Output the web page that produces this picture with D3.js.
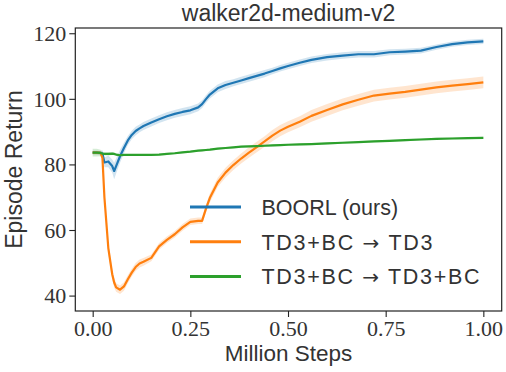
<!DOCTYPE html>
<html>
<head>
<meta charset="utf-8">
<script src="https://cdn.jsdelivr.net/npm/d3@7"></script>
<style>
  body { margin: 0; background: #fff; }
  svg { display: block; }
</style>
</head>
<body>
<div id="chart"></div>
<script>
// Steps (millions) shared by all three runs
const steps = [0, 0.01, 0.02, 0.025, 0.03, 0.04, 0.05, 0.055, 0.06, 0.07, 0.08, 0.09, 0.10, 0.11, 0.12, 0.13,
    0.15, 0.17, 0.19, 0.21, 0.23, 0.25, 0.27, 0.28, 0.29, 0.30, 0.32, 0.34, 0.36, 0.38, 0.40, 0.42, 0.44,
    0.46, 0.48, 0.50, 0.53, 0.56, 0.60, 0.64, 0.68, 0.72, 0.76, 0.80, 0.84, 0.88, 0.92, 0.96, 1.00];

const boorl = [83.6, 83.6, 83.5, 83.3, 80.6, 80.9, 79.5, 78.0, 79.5, 82.5, 85.0, 87.3, 89.0, 90.2, 91.0, 91.7,
    92.8, 93.8, 94.7, 95.4, 96.0, 96.5, 97.4, 98.4, 99.9, 101.3, 103.2, 104.2, 104.9, 105.6, 106.3, 107.0, 107.7,
    108.5, 109.3, 110.0, 111.0, 111.9, 112.7, 113.2, 113.6, 113.6, 114.2, 114.4, 114.7, 115.8, 116.7, 117.2, 117.5];
const boorlBand = [0.6, 0.6, 0.6, 1.0, 1.5, 1.8, 2.0, 2.5, 2.3, 2.0, 1.6, 1.4, 1.3, 1.3, 1.2, 1.2,
    1.2, 1.2, 1.2, 1.2, 1.2, 1.2, 1.2, 1.2, 1.2, 1.2, 1.2, 1.2, 1.1, 1.1, 1.1, 1.1, 1.1,
    1.0, 1.0, 1.0, 1.0, 1.0, 1.0, 1.0, 1.0, 1.0, 0.9, 0.9, 0.9, 0.8, 0.8, 0.8, 0.8];

const td3 = [83.6, 83.6, 83.5, 82.0, 70.0, 54.5, 46.5, 44.0, 42.5, 41.8, 42.8, 45.0, 47.0, 48.7, 49.8, 50.3,
    51.5, 55.0, 57.0, 58.7, 60.8, 62.5, 62.8, 62.8, 66.5, 69.8, 74.5, 77.5, 79.8, 81.8, 83.6, 85.3, 87.0,
    88.8, 90.3, 91.5, 93.0, 94.8, 96.6, 98.3, 99.7, 101.0, 101.6, 102.1, 102.8, 103.5, 104.0, 104.5, 105.0];
const td3Band = [0.5, 0.5, 0.5, 1.0, 1.5, 1.5, 1.5, 1.5, 1.3, 1.3, 1.3, 1.2, 1.2, 1.2, 1.2, 1.2,
    1.0, 1.0, 1.0, 1.0, 1.0, 1.0, 1.0, 1.0, 1.2, 1.3, 1.4, 1.5, 1.5, 1.5, 1.6, 1.6, 1.6,
    1.7, 1.7, 1.7, 1.7, 1.8, 1.8, 1.8, 1.8, 1.8, 1.8, 1.8, 1.8, 1.8, 1.8, 1.8, 1.8];

const td3bc = [83.6, 83.6, 83.5, 83.3, 83.2, 83.2, 83.3, 83.2, 83.0, 82.8, 82.9, 82.9, 82.9, 82.9, 82.9, 82.9,
    82.9, 83.0, 83.2, 83.4, 83.7, 83.9, 84.2, 84.3, 84.4, 84.5, 84.8, 85.0, 85.2, 85.4, 85.5, 85.6, 85.7,
    85.8, 85.9, 86.0, 86.1, 86.2, 86.4, 86.6, 86.8, 87.0, 87.2, 87.4, 87.6, 87.8, 87.9, 88.0, 88.1];
const td3bcBand = [1.2, 1.2, 1.0, 0.6, 0.5, 0.5, 0.4, 0.4, 0.4, 0.4, 0.3, 0.3, 0.3, 0.3, 0.3, 0.3,
    0.3, 0.3, 0.3, 0.3, 0.3, 0.3, 0.3, 0.3, 0.3, 0.3, 0.3, 0.3, 0.3, 0.3, 0.3, 0.3, 0.3,
    0.3, 0.3, 0.3, 0.3, 0.3, 0.3, 0.3, 0.3, 0.3, 0.3, 0.3, 0.3, 0.3, 0.3, 0.3, 0.3];

// Legend labels split around the arrow so the arrow can use a wider glyph
const seriesNames = [["BOORL (ours)"], ["TD3+BC ", "\u2192", " TD3"], ["TD3+BC ", "\u2192", " TD3+BC"]];
const seriesColors = ["#1f77b4", "#ff7f0e", "#2ca02c"];
const xTicks = [0, 0.25, 0.5, 0.75, 1.0];
const yTicks = [40, 60, 80, 100, 120];

const width = 506;
const height = 372;
const margin = { top: 28, right: 4.3, bottom: 61, left: 75.3 };

const svg = d3.select("#chart")
    .append("svg")
    .attr("width", width)
    .attr("height", height);

const x = d3.scaleLinear()
    .domain([-0.0445, 1.047])
    .range([margin.left, width - margin.right]);

const y = d3.scaleLinear()
    .domain([35.3, 121.6])
    .range([height - margin.bottom, margin.top]);

const serifFont = "'Liberation Serif', 'DejaVu Serif', serif";
const sansFont = "'Liberation Sans', 'DejaVu Sans', sans-serif";
const textColor = "#333";

const series = [
    { values: boorl, band: boorlBand },
    { values: td3, band: td3Band },
    { values: td3bc, band: td3bcBand }
].map((s, i) => ({
    name: seriesNames[i],
    color: seriesColors[i],
    points: steps.map((t, j) => ({ t, v: s.values[j], lo: s.values[j] - s.band[j], hi: s.values[j] + s.band[j] }))
}));

const area = d3.area()
    .x(d => x(d.t))
    .y0(d => y(d.lo))
    .y1(d => y(d.hi));

const line = d3.line()
    .x(d => x(d.t))
    .y(d => y(d.v));

const plot = svg.append("g");

series.forEach(s => {
    plot.append("path")
        .datum(s.points)
        .attr("fill", s.color)
        .attr("fill-opacity", 0.2)
        .attr("stroke", "none")
        .attr("d", area);
});

series.forEach(s => {
    plot.append("path")
        .datum(s.points)
        .attr("fill", "none")
        .attr("stroke", s.color)
        .attr("stroke-width", 2.2)
        .attr("stroke-linejoin", "round")
        .attr("d", line);
});

// Axes
const xAxis = svg.append("g")
    .attr("transform", `translate(0,${height - margin.bottom})`)
    .call(d3.axisBottom(x).tickValues(xTicks).tickFormat(d3.format(".2f")).tickSizeOuter(0).tickSize(6).tickPadding(3));

const yAxis = svg.append("g")
    .attr("transform", `translate(${margin.left},0)`)
    .call(d3.axisLeft(y).tickValues(yTicks).tickSizeOuter(0).tickSize(6).tickPadding(3));

[xAxis, yAxis].forEach(g => {
    g.select(".domain").remove();
    g.selectAll(".tick line").attr("stroke", "#222").attr("stroke-width", 1.1);
    g.selectAll(".tick text")
        .attr("fill", textColor)
        .style("font-family", serifFont)
        .style("font-size", "22px");
});
yAxis.selectAll(".tick text").attr("dy", "0.33em");

// Frame
svg.append("rect")
    .attr("x", margin.left)
    .attr("y", margin.top)
    .attr("width", width - margin.left - margin.right)
    .attr("height", height - margin.top - margin.bottom)
    .attr("fill", "none")
    .attr("stroke", "#222")
    .attr("stroke-width", 1.2);

// Title and labels
const midX = (margin.left + width - margin.right) / 2;
const midY = (margin.top + height - margin.bottom) / 2;

svg.append("text")
    .attr("x", midX)
    .attr("y", 21)
    .attr("text-anchor", "middle")
    .attr("fill", textColor)
    .style("font-family", sansFont)
    .style("font-size", "23px")
    .text("walker2d-medium-v2");

svg.append("text")
    .attr("x", midX)
    .attr("y", 361)
    .attr("text-anchor", "middle")
    .attr("fill", textColor)
    .style("font-family", sansFont)
    .style("font-size", "22.5px")
    .text("Million Steps");

svg.append("text")
    .attr("transform", `translate(21.5,${midY}) rotate(-90)`)
    .attr("text-anchor", "middle")
    .attr("fill", textColor)
    .style("font-family", sansFont)
    .style("font-size", "23px")
    .text("Episode Return");

// Legend (math-mode labels in the original are set wider, so stretch them)
const legend = svg.append("g")
    .attr("transform", "translate(190,207)");
const legendTextLengths = [null, 171, 218];

series.forEach((s, i) => {
    const row = legend.append("g").attr("transform", `translate(0,${i * 34.7})`);
    row.append("line")
        .attr("x1", 0)
        .attr("x2", 51)
        .attr("stroke", s.color)
        .attr("stroke-width", 3);
    const label = row.append("text")
        .attr("x", 71.5)
        .attr("y", 8)
        .attr("fill", textColor)
        .style("font-family", sansFont)
        .style("font-size", "21.5px");
    if (legendTextLengths[i]) {
        label.attr("textLength", legendTextLengths[i]).attr("lengthAdjust", "spacing");
    }
    s.name.forEach(part => {
        const span = label.append("tspan").text(part);
        if (part === "\u2192") span.style("font-family", "'DejaVu Sans', sans-serif").style("font-size", "20px");
    });
});
</script>
</body>
</html>
